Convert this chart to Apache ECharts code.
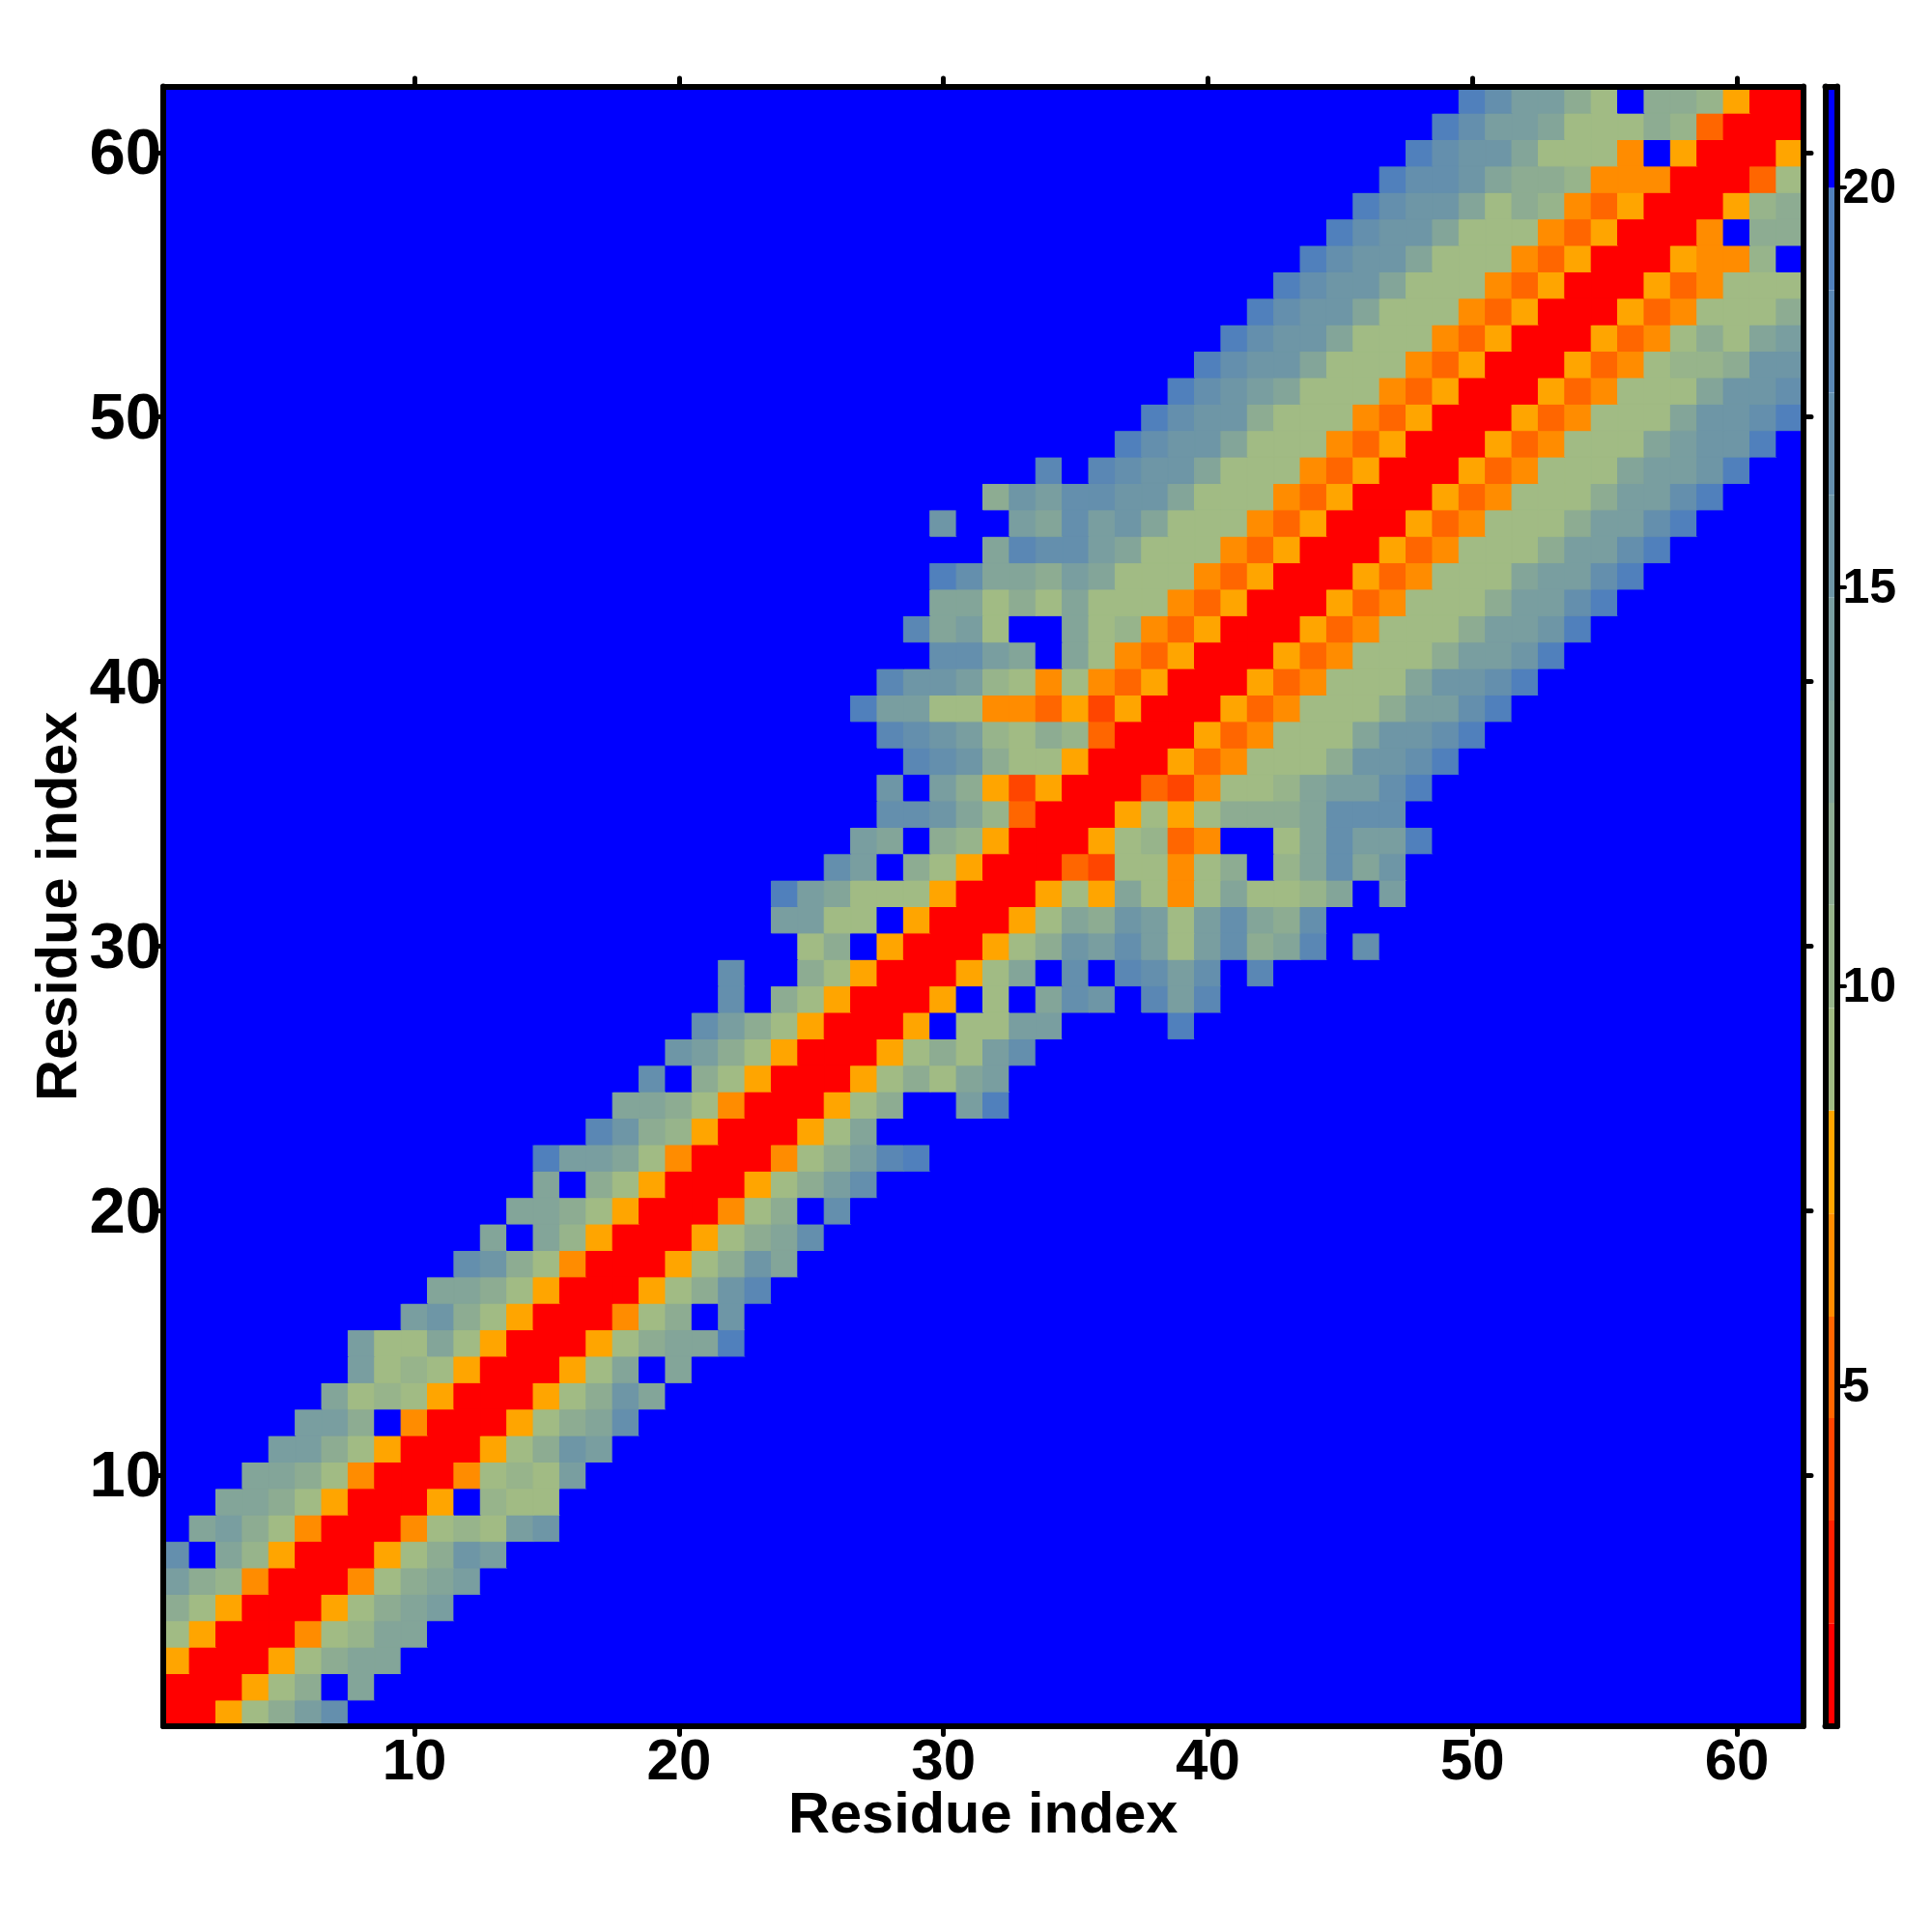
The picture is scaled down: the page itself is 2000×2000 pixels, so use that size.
<!DOCTYPE html>
<html>
<head>
<meta charset="utf-8">
<style>html,body{margin:0;padding:0;background:#fff}#c{width:2000px;height:2000px}</style>
<script src="https://cdn.jsdelivr.net/npm/echarts@6/dist/echarts.min.js"></script>
</head>
<body>
<div id="c"></div>
<script>
// Residue categories and tick labels
const residues = Array.from({length: 62}, (_, i) => String(i + 1));
const residueTicks = ['10', '20', '30', '40', '50', '60'];
const colorbarTicks = [5, 10, 15, 20];

// Colour-key bins (lower edges, top edge last)
const binEdges = [0.745, 2.03, 3.32, 4.6, 5.87, 7.16, 8.45, 9.73, 11.02, 12.30, 13.58, 14.87, 16.15, 17.43, 18.71, 19.99, 21.26];
const binValues = [1.4, 2.7, 4.0, 5.2, 6.5, 7.8, 9.1, 10.4, 11.6, 12.9, 14.2, 15.5, 16.8, 18.0, 19.3, 20.6];
const binColors = ['#ff0000', '#ff2000', '#ff4500', '#ff6600', '#ff8c00', '#ffa500',
  '#a1bb84', '#97b48b', '#8dac92', '#83a599', '#799ea0', '#6e96a6', '#648fad', '#5a87b4', '#5080bc', '#0000ff'];

// One entry per row (residue 1 upward): first coloured column, then the bin of each
// cell as a hex digit (1 = first bin ... f = 15th), '.' = top bin (blue).
const bandRows = [
  [1, '11679bd'],
  [1, '111679.a'],
  [1, '6111679aa'],
  [1, '76111578aa'],
  [1, '976111679ab'],
  [1, 'b985111579ab'],
  [1, 'd.a86111679cb'],
  [2, 'ab9751115787bc'],
  [3, 'aa9761116.877'],
  [4, 'aa9751115787b'],
  [5, 'bb976111679cb'],
  [6, 'bb9.5111679ad'],
  [7, 'a7876111679ca'],
  [8, 'b787611167a.a'],
  [8, 'b77a76111679aaf'],
  [10, 'bc976111579.c'],
  [11, 'aa976111679ce'],
  [12, 'dc975111679ca'],
  [13, 'a.a86111679ad'],
  [14, 'aa976111579.d'],
  [15, 'a.976111679bd'],
  [15, 'fbba75111579bef'],
  [17, 'ec98611167a'],
  [18, 'aa975111679..bf'],
  [19, 'd.9761116797ab'],
  [20, 'cb9761116797bd'],
  [21, 'db9761116.77bb....f'],
  [22, 'd.9761116.7.adc.ebe'],
  [22, 'd..97611167a.d.edbd.e'],
  [25, '79.6111679cbdb7bd9ae.d'],
  [24, 'bb77.611167a9cb7bda9d'],
  [24, 'fba7776111676a757a778a.b'],
  [26, 'db.9761114377579.8adac'],
  [27, 'ba.98611167845..7adbbf'],
  [28, 'ddca841116767999addd'],
  [28, 'c.b9636111435778abbdf'],
  [29, 'edc97761116457779ccdf'],
  [28, 'edcb87984111645777accdf'],
  [27, 'fbb775546361116457779bbdf'],
  [28, 'eccb8757546111645777accdf'],
  [30, 'ddba.a75461116457779bbcf'],
  [29, 'eab7..a785461116457779bbcf'],
  [30, 'aa797a7775461116457779bbdf'],
  [30, 'fdaa9ba777546111645777abbdf'],
  [32, 'aeddba7775461116457779bbdf'],
  [30, 'c..badbca7775461116457779bbdf'],
  [32, '9cbddcca7775461116457779bbdf'],
  [34, 'e.edcca777546111645777abbcf'],
  [37, 'fdcca777546111645777abccf'],
  [38, 'fdcc9777546111645777accdf'],
  [39, 'fdcba777546111645777accd'],
  [40, 'fdcca7775461116457889cc'],
  [41, 'fdcca777546111645797ab'],
  [42, 'fdcca7775461116457779'],
  [43, 'fdcca777546111645777'],
  [44, 'fdcca7775461116558.'],
  [45, 'fdcca7775461115.99'],
  [46, 'fdcca798546111689'],
  [47, 'fddca99855511147'],
  [48, 'fdcca7775.61116'],
  [49, 'fdbba777984111'],
  [50, 'fdbb97.998611']
];

const heatData = [];
bandRows.forEach(function (row, y) {
  for (let x = 0; x < residues.length; x++) {
    const ch = row[1][x - (row[0] - 1)];
    const bin = (ch === undefined || ch === '.') ? 15 : parseInt(ch, 16) - 1;
    heatData.push({value: [x, y, binValues[bin]],
      itemStyle: {color: binColors[bin], borderColor: binColors[bin], borderWidth: 1}});
  }
});
const barData = binColors.map((c, i) => [binEdges[i], binEdges[i + 1], i]);

const font = '"Liberation Sans", Arial, sans-serif';
const showTick = (i, v) => residueTicks.indexOf(String(v)) >= 0;
const frameLine = {show: true, onZero: false, lineStyle: {color: '#000', width: 6, cap: 'round'}};
const tickStyle = {show: true, alignWithLabel: true, interval: showTick, length: 8.5, lineStyle: {color: '#000', width: 5, cap: 'round'}};

const chart = echarts.init(document.getElementById('c'), null, {renderer: 'canvas'});
chart.setOption({
  animation: false,
  backgroundColor: '#ffffff',
  grid: [
    {left: 169, top: 89.5, width: 1697.5, height: 1697.5, show: true, backgroundColor: '#0000ff', borderWidth: 0},
    {left: 1889.5, top: 89.5, width: 12, height: 1697.5}
  ],
  xAxis: [
    {type: 'category', gridIndex: 0, z: 20, data: residues, position: 'bottom', axisLine: frameLine, axisTick: tickStyle,
      splitLine: {show: false},
      axisLabel: {interval: showTick, color: '#000', fontFamily: font, fontWeight: 'bold', fontSize: 60, margin: 8},
      name: 'Residue index', nameLocation: 'middle', nameGap: 64, nameMoveOverlap: false,
      nameTextStyle: {color: '#000', fontFamily: font, fontWeight: 'bold', fontSize: 59.5}},
    {type: 'category', gridIndex: 0, z: 20, data: residues, position: 'top', axisLine: frameLine, axisTick: tickStyle, axisLabel: {show: false}, splitLine: {show: false}},
    {type: 'value', gridIndex: 1, z: 20, min: 0, max: 1, position: 'bottom', axisLine: frameLine, axisTick: {show: false}, axisLabel: {show: false}, splitLine: {show: false}},
    {type: 'value', gridIndex: 1, z: 20, min: 0, max: 1, position: 'top', axisLine: frameLine, axisTick: {show: false}, axisLabel: {show: false}, splitLine: {show: false}}
  ],
  yAxis: [
    {type: 'category', gridIndex: 0, z: 20, data: residues, position: 'left', axisLine: frameLine, axisTick: tickStyle,
      splitLine: {show: false},
      axisLabel: {interval: showTick, color: '#000', fontFamily: font, fontWeight: 'bold', fontSize: 67, margin: 2, verticalAlign: 'top', lineHeight: 8},
      name: 'Residue index', nameLocation: 'middle', nameGap: 76, nameRotate: 90, nameMoveOverlap: false,
      nameTextStyle: {color: '#000', fontFamily: font, fontWeight: 'bold', fontSize: 59.5}},
    {type: 'category', gridIndex: 0, z: 20, data: residues, position: 'right', axisLine: frameLine, axisTick: tickStyle, axisLabel: {show: false}, splitLine: {show: false}},
    {type: 'value', gridIndex: 1, z: 20, min: binEdges[0], max: binEdges[binEdges.length - 1], position: 'right',
      axisLine: frameLine, splitLine: {show: false},
      axisTick: {show: true, length: 8.5, customValues: colorbarTicks, lineStyle: {color: '#000', width: 4, cap: 'round'}},
      axisLabel: {customValues: colorbarTicks, color: '#000', fontFamily: font, fontWeight: 'bold', fontSize: 50, margin: 6, verticalAlign: 'top', lineHeight: 5}},
    {type: 'value', gridIndex: 1, z: 20, min: binEdges[0], max: binEdges[binEdges.length - 1], position: 'left',
      axisLine: frameLine, axisTick: {show: false}, axisLabel: {show: false}, splitLine: {show: false}}
  ],
  visualMap: {
    show: false, type: 'piecewise', seriesIndex: 0, dimension: 2,
    pieces: binColors.map((c, i) => ({gte: binEdges[i], lt: binEdges[i + 1], color: c}))
  },
  series: [
    {type: 'heatmap', xAxisIndex: 0, yAxisIndex: 0, data: heatData, progressive: 0, animation: false,
      emphasis: {disabled: true}, silent: true},
    {type: 'custom', xAxisIndex: 2, yAxisIndex: 2, data: barData, silent: true, clip: false,
      encode: {y: [0, 1]},
      renderItem: function (params, api) {
        const a = api.coord([0, api.value(0)]);
        const b = api.coord([1, api.value(1)]);
        return {type: 'rect', shape: {x: a[0], y: b[1], width: b[0] - a[0], height: a[1] - b[1]},
          style: {fill: binColors[api.value(2)]}};
      }}
  ]
});
</script>
</body>
</html>
